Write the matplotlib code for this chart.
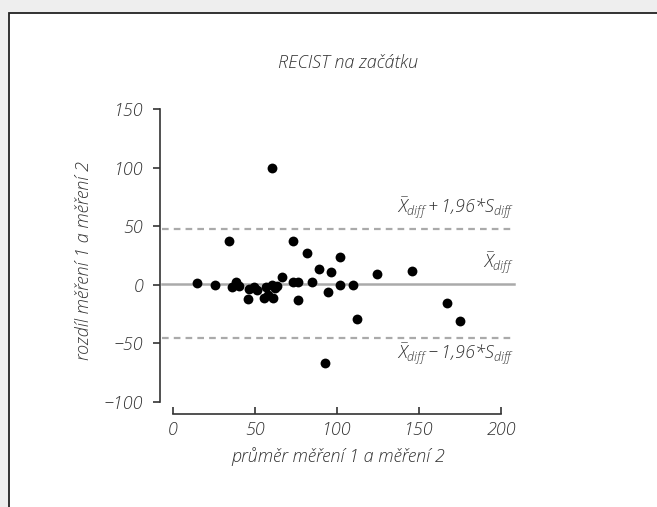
import matplotlib
matplotlib.use("Agg")
import matplotlib.pyplot as plt
from matplotlib.patches import Rectangle

# data
mean_x = [14.4, 25.6, 34.1, 35.8, 38.4, 40.5, 45.9, 46.5, 49.6, 51.0, 55.5, 56.7, 58.1,
          60.8, 60.2, 62.2, 63.6, 66.3, 73.4, 73.4, 76.4, 76.4, 81.5, 84.6, 89.2, 94.3,
          96.5, 101.8, 101.8, 109.6, 112.0, 92.7, 60.4, 124.6, 145.5, 167.3, 175.0]
diff_y = [1.3, 0, 37.4, -2, 2.6, -1, -12, -3.3, -1.6, -4.4, -11.5, -2, -8.7,
          -11.5, 0, -3, -1, 7, 37.4, 2.6, 2.6, -13, 27, 2.6, 13.5, -5.9,
          10.7, 24, 0, 0, -29.4, -67, 100, 9.2, 12, -15.5, -31]
mean_diff = 1.0
upper_loa = 47.5
lower_loa = -45.5
x_ticks = [0, 50, 100, 150, 200]
y_ticks = [-100, -50, 0, 50, 100, 150]

plt.rcParams['font.family'] = ['Open Sans', 'DejaVu Sans']
plt.rcParams['font.style'] = 'italic'
plt.rcParams['font.weight'] = 'light'
plt.rcParams['axes.labelweight'] = 'light'
plt.rcParams['mathtext.fontset'] = 'custom'
plt.rcParams['mathtext.it'] = 'Open Sans:italic:light'
plt.rcParams['mathtext.rm'] = 'Open Sans:italic:light'
plt.rcParams['mathtext.bf'] = 'Open Sans:italic:light'

txt = '#333333'
fig = plt.figure(figsize=(6.57, 5.07), dpi=100)
fig.patch.set_facecolor('#eeeeee')
panel = Rectangle((8.5 / 657, -0.01), 1.0, 1 - 12.5 / 507 + 0.01, transform=fig.transFigure,
                  facecolor='white', edgecolor='#222222', linewidth=1.3, zorder=-5)
fig.patches.append(panel)

ax = fig.add_axes([0.2434, 0.1840, 0.5441, 0.6055])
ax.set_facecolor('none')
ax.set_xlim(-8, 210)
ax.set_ylim(-110, 152)

ax.axhline(mean_diff, xmin=0.005, xmax=0.99, color='#aaaaaa', lw=1.8, zorder=1)
for v in (upper_loa, lower_loa):
    ax.axhline(v, xmin=0.005, xmax=0.99, color='#aaaaaa', lw=1.6, ls=(0, (3, 2.3)), zorder=1)

ax.scatter(mean_x, diff_y, s=50, color='black', zorder=3, linewidths=0)

for s in ('top', 'right'):
    ax.spines[s].set_visible(False)
ax.spines['left'].set_bounds(-100, 150)
ax.spines['bottom'].set_bounds(0, 200)
for s in ('left', 'bottom'):
    ax.spines[s].set_color('#333333')
    ax.spines[s].set_linewidth(1.2)

ax.set_xticks(x_ticks)
ax.set_yticks(y_ticks)
ax.set_yticklabels([str(v).replace('-', '\u2212') for v in y_ticks])
ax.tick_params(axis='y', direction='out', length=5, width=1.2, color='#333333',
               labelsize=13, labelcolor=txt, pad=7)
ax.tick_params(axis='x', direction='in', length=5, width=1.2, color='#333333',
               labelsize=13, labelcolor=txt, pad=5)

ax.set_xlabel('průměr měření 1 a měření 2', fontsize=13, color=txt, labelpad=6)
ax.set_ylabel('rozdíl měření 1 a měření 2', fontsize=13, color=txt, labelpad=8)
fig.text(0.53, 0.875, 'RECIST na začátku', ha='center', va='center', fontsize=13, color=txt)

ax.annotate(r'$\bar{X}_{diff}+1{,}96{*}S_{diff}$', (208, upper_loa), xytext=(0, 5),
            textcoords='offset points', ha='right', va='bottom', fontsize=13, color=txt)
ax.annotate(r'$\bar{X}_{diff}$', (208, mean_diff), xytext=(0, 5),
            textcoords='offset points', ha='right', va='bottom', fontsize=13, color=txt)
ax.annotate(r'$\bar{X}_{diff}-1{,}96{*}S_{diff}$', (208, lower_loa), xytext=(0, -3),
            textcoords='offset points', ha='right', va='top', fontsize=13, color=txt)

fig.savefig('out.png', dpi=100, facecolor=fig.get_facecolor())
